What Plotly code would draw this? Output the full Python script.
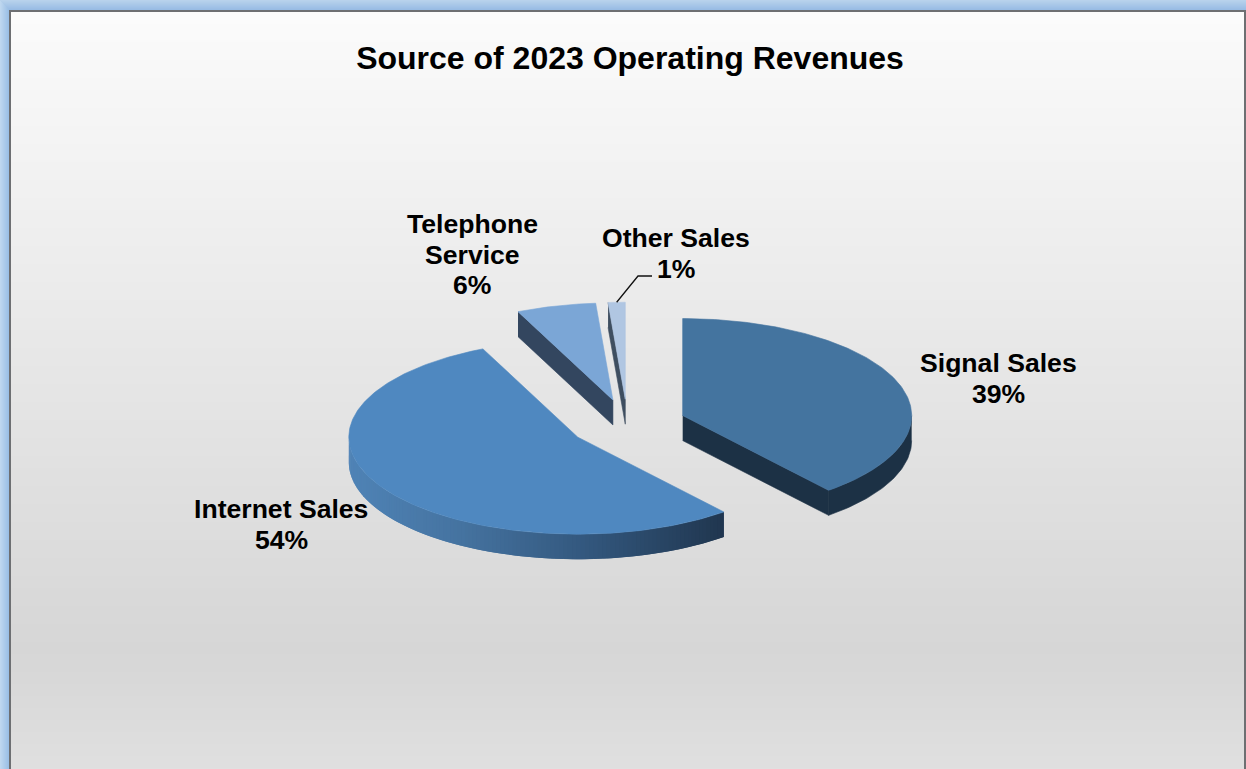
import numpy as np
import plotly.graph_objects as go

# --- data -------------------------------------------------------------
categories = ["Signal Sales", "Internet Sales", "Telephone Service", "Other Sales"]
shares = [39.0, 54.2, 5.6, 1.2]
label_lines = [["Signal Sales"], ["Internet Sales"], ["Telephone", "Service"], ["Other Sales"]]

# --- styles -----------------------------------------------------------
W, H = 1246, 769
CX, CY, RX, RY = 627.5, 424.0, 229.0, 97.0
EXPLODE = 0.256
DEPTH = 25.0
top_colors = ["#44749f", "#4f88c0", "#7ba6d6", "#b0c6e2"]
wall_colors = ["#1c3145", "#22384f", "#33465f", "#3e4e60"]
FONT = "Liberation Sans, Arial, sans-serif"
shapes = []


def rect(x0, y0, x1, y1, color):
    shapes.append(dict(type="rect", xref="x", yref="y", x0=x0, y0=y0, x1=x1, y1=y1,
                       fillcolor=color, line=dict(width=0), layer="below"))


def lerp(stops, t):
    for (t0, c0), (t1, c1) in zip(stops, stops[1:]):
        if t <= t1:
            f = (t - t0) / (t1 - t0)
            return tuple(a + (b - a) * f for a, b in zip(c0, c1))
    return stops[-1][1]


def rgb(c):
    return "rgb(%d,%d,%d)" % tuple(round(v) for v in c)


# frame + panel gradient
rect(0, 0, W, H, "#9dc0e6")
for i in range(10):
    rect(i, i, i + 1, H, rgb(lerp([(0, (190, 215, 239)), (1, (150, 188, 228))], i / 9)))
    rect(i, i, W, i + 1, rgb(lerp([(0, (184, 210, 236)), (1, (152, 188, 228))], i / 9)))
rect(9, 10, W, H, "#6d6f72")
panel_stops = [(0, (251, 251, 251)), (0.84, (214, 214, 214)), (1, (224, 224, 224))]
PY0, PH = 12, H - 12
STRIP = 6
for y in range(PY0, H, STRIP):
    rect(11, y, W - 2, min(y + STRIP + 1, H), rgb(lerp(panel_stops, (y - PY0) / PH)))

fig = go.Figure()


def poly(xs, ys, color, lw=0.6):
    fig.add_trace(go.Scatter(x=xs, y=ys, mode="lines", fill="toself", fillcolor=color,
                             line=dict(color=color, width=lw), hoverinfo="skip",
                             showlegend=False))


def pt(cx, cy, a):
    return cx + RX * np.sin(a), cy - RY * np.cos(a)


# --- slice angles from the values ---------------------------------------
total = sum(shares)
edges = np.radians(np.concatenate([[0], np.cumsum(shares)]) / total * 360)
slices = []
for i in range(len(shares)):
    a0, a1 = edges[i], edges[i + 1]
    mid = (a0 + a1) / 2
    cx = CX + EXPLODE * RX * np.sin(mid)
    cy = CY - EXPLODE * RY * np.cos(mid)
    slices.append((cx, cy, a0, a1))

# draw back to front: other, telephone, signal, internet
cx, cy, a0, a1 = slices[3]
ex, ey = pt(cx, cy, a0)
poly([ex, cx, cx, ex], [ey, cy, cy + DEPTH, ey + DEPTH], wall_colors[3])
t = np.linspace(a0, a1, 8)
px, py = pt(cx, cy, t)
poly([cx, *px, cx], [cy, *py, cy], top_colors[3])

cx, cy, a0, a1 = slices[2]
ex, ey = pt(cx, cy, a0)
poly([ex, cx, cx, ex], [ey, cy, cy + DEPTH, ey + DEPTH], wall_colors[2])
t = np.linspace(a0, a1, 30)
px, py = pt(cx, cy, t)
poly([cx, *px, cx], [cy, *py, cy], top_colors[2])

cx, cy, a0, a1 = slices[0]
ex, ey = pt(cx, cy, a1)
poly([cx, ex, ex, cx], [cy, ey, ey + DEPTH, cy + DEPTH], wall_colors[0])
t = np.linspace(np.pi / 2, a1, 50)
px, py = pt(cx, cy, t)
poly([*px, *px[::-1]], [*py, *(py[::-1] + DEPTH)], wall_colors[0])
t = np.linspace(a0, a1, 160)
px, py = pt(cx, cy, t)
poly([cx, *px, cx], [cy, *py, cy], top_colors[0])

# Internet: outer wall as a shaded band, left to right; each band runs under the next
cx, cy, a0, a1 = slices[1]
wall_stops = [(0, (79, 131, 182)), (0.3, (69, 115, 160)), (0.65, (50, 86, 124)), (1, (32, 54, 79))]
steps = 120
x_left = cx - RX
x_right = pt(cx, cy, a0)[0]
angs = np.linspace(1.5 * np.pi, a0, steps + 1)
for k in range(steps):
    seg = np.linspace(angs[k], angs[min(k + 2, steps)], 6)
    px, py = pt(cx, cy, seg)
    f = (pt(cx, cy, (angs[k] + angs[k + 1]) / 2)[0] - x_left) / (x_right - x_left)
    poly([*px, *px[::-1]], [*py, *(py[::-1] + DEPTH)], rgb(lerp(wall_stops, f)), lw=0)
t = np.linspace(a0, a1, 220)
px, py = pt(cx, cy, t)
poly([cx, *px, cx], [cy, *py, cy], top_colors[1])

# Leader line for the small slice
cx, cy, a0, a1 = slices[3]
lx, ly = pt(cx, cy, (a0 + a1) / 2)
fig.add_trace(go.Scatter(x=[lx, 638, 652], y=[ly, 276, 276], mode="lines",
                         line=dict(color="#111111", width=1.3), hoverinfo="skip", showlegend=False))

# Data labels
label_pos = [(998, 363), (281, 509), (472, 224), (676, 238)]
LINE = 30.6
annotations = []
for lines, share, (lx, ly) in zip(label_lines, shares, label_pos):
    for j, s in enumerate(lines + [f"{round(share)}%"]):
        annotations.append(dict(x=lx, y=ly + j * LINE, xref="x", yref="y", text="<b>" + s + "</b>",
                                showarrow=False, xanchor="center", yanchor="middle",
                                font=dict(family=FONT, size=26.6, color="#000000")))

fig.update_layout(
    width=W, height=H, autosize=False, margin=dict(l=0, r=0, t=0, b=0),
    paper_bgcolor="#e6e6e6", plot_bgcolor="rgba(0,0,0,0)", showlegend=False,
    title=dict(text="<b>Source of 2023 Operating Revenues</b>", x=630 / W, y=1 - 58 / H,
               xref="paper", yref="paper", xanchor="center", yanchor="middle",
               font=dict(family=FONT, size=32, color="#000000")),
    xaxis=dict(range=[0, W], visible=False, fixedrange=True),
    yaxis=dict(range=[H, 0], visible=False, fixedrange=True),
    shapes=shapes, annotations=annotations,
)
fig.write_html("out.html", config=dict(displayModeBar=False),
               post_script="document.body.style.margin='0';document.body.style.overflow='hidden';")
